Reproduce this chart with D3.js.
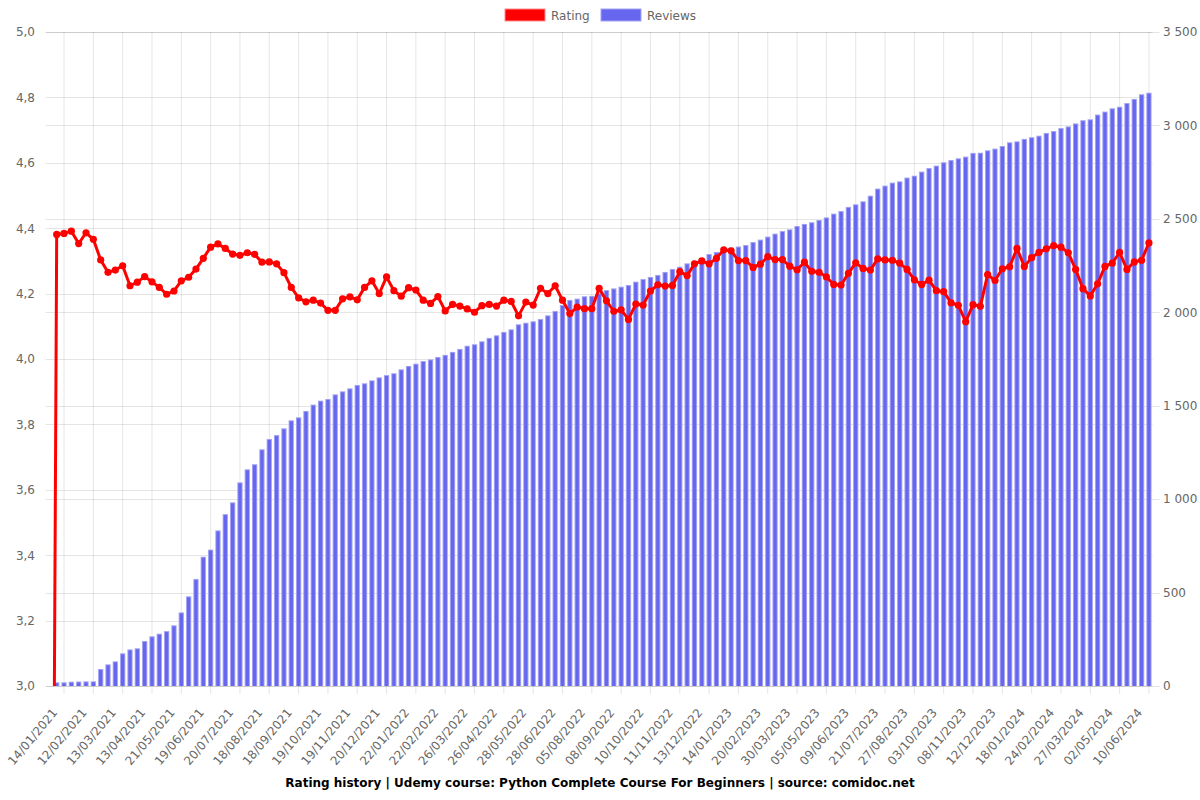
<!DOCTYPE html>
<html>
<head>
<meta charset="utf-8">
<script src="https://cdn.jsdelivr.net/npm/d3@7"></script>
<style>
  html, body { margin: 0; padding: 0; background: #fff; }
  svg { display: block; font-family: "DejaVu Sans", sans-serif; }
</style>
</head>
<body>
<svg id="chart" width="1200" height="800"></svg>
<script>
// ---------------- DATA ----------------
const ratingValues = [0,
  4.381, 4.384, 4.391, 4.353, 4.386, 4.366, 4.303, 4.265, 4.272, 4.285,
  4.224, 4.235, 4.252, 4.236, 4.219, 4.198, 4.208, 4.239, 4.250, 4.275,
  4.308, 4.342, 4.352, 4.338, 4.321, 4.317, 4.325, 4.320, 4.296, 4.297,
  4.291, 4.264, 4.219, 4.187, 4.175, 4.180, 4.171, 4.149, 4.149, 4.184,
  4.190, 4.181, 4.219, 4.239, 4.200, 4.251, 4.209, 4.192, 4.218, 4.211,
  4.180, 4.170, 4.191, 4.147, 4.167, 4.162, 4.153, 4.143, 4.163, 4.167,
  4.162, 4.180, 4.176, 4.132, 4.174, 4.165, 4.216, 4.200, 4.224, 4.180,
  4.139, 4.159, 4.154, 4.154, 4.216, 4.178, 4.146, 4.150, 4.121, 4.168,
  4.165, 4.208, 4.227, 4.223, 4.225, 4.267, 4.255, 4.291, 4.300, 4.291,
  4.308, 4.334, 4.331, 4.301, 4.301, 4.280, 4.290, 4.313, 4.304, 4.304,
  4.284, 4.273, 4.296, 4.268, 4.265, 4.251, 4.228, 4.226, 4.262, 4.294,
  4.277, 4.272, 4.306, 4.303, 4.302, 4.293, 4.274, 4.242, 4.228, 4.241,
  4.209, 4.206, 4.172, 4.164, 4.114, 4.166, 4.161, 4.258, 4.240, 4.276,
  4.282, 4.338, 4.283, 4.310, 4.326, 4.337, 4.347, 4.342, 4.325, 4.274,
  4.215, 4.193, 4.230, 4.283, 4.293, 4.326, 4.274, 4.297, 4.302, 4.355
];

const reviewValues = [0,
  20, 20, 23, 24, 25, 25, 91, 116, 132, 175,
  196, 202, 241, 266, 280, 294, 325, 394, 480, 573,
  692, 730, 833, 920, 983, 1090, 1160, 1187, 1267, 1322,
  1343, 1379, 1422, 1438, 1472, 1506, 1527, 1536, 1561, 1577,
  1593, 1611, 1620, 1636, 1652, 1664, 1674, 1695, 1713, 1725,
  1739, 1748, 1761, 1772, 1788, 1804, 1821, 1829, 1845, 1863,
  1877, 1895, 1909, 1936, 1944, 1952, 1964, 1984, 2007, 2039,
  2066, 2073, 2086, 2088, 2102, 2119, 2128, 2137, 2146, 2164,
  2178, 2189, 2200, 2216, 2232, 2244, 2262, 2276, 2289, 2312,
  2323, 2340, 2346, 2352, 2360, 2376, 2389, 2405, 2421, 2435,
  2444, 2462, 2473, 2482, 2494, 2508, 2528, 2542, 2564, 2578,
  2594, 2624, 2662, 2678, 2694, 2701, 2721, 2731, 2753, 2772,
  2785, 2803, 2815, 2824, 2833, 2853, 2854, 2867, 2876, 2890,
  2910, 2915, 2928, 2937, 2945, 2960, 2970, 2986, 2995, 3011,
  3028, 3033, 3058, 3074, 3092, 3100, 3120, 3142, 3167, 3175
];

// shown date labels (every 4th point, starting at the 3rd point)
const dateLabels = [
  "14/01/2021","12/02/2021","13/03/2021","13/04/2021","21/05/2021","19/06/2021",
  "20/07/2021","18/08/2021","18/09/2021","19/10/2021","19/11/2021","20/12/2021",
  "22/01/2022","22/02/2022","26/03/2022","26/04/2022","28/05/2022","28/06/2022",
  "05/08/2022","08/09/2022","10/10/2022","11/11/2022","13/12/2022","14/01/2023",
  "20/02/2023","30/03/2023","05/05/2023","09/06/2023","21/07/2023","27/08/2023",
  "03/10/2023","08/11/2023","12/12/2023","18/01/2024","24/02/2024","27/03/2024",
  "02/05/2024","10/06/2024"
];
const labelStart = 2, labelEvery = 4;

const ratingTicks = [3.0, 3.2, 3.4, 3.6, 3.8, 4.0, 4.2, 4.4, 4.6, 4.8, 5.0];
const reviewTicks = [0, 500, 1000, 1500, 2000, 2500, 3000, 3500];

const titleText = "Rating history | Udemy course: Python Complete Course For Beginners | source: comidoc.net";
const seriesNames = ["Rating", "Reviews"];

// ---------------- LAYOUT ----------------
const plot = { left: 45.7, right: 1152.6, top: 32, bottom: 686 };
const gridColor = "rgba(0,0,0,0.1)";
const tickColor = "#666";

const svg = d3.select("#chart");

const idx = d3.range(ratingValues.length);
const x = d3.scaleBand().domain(idx).range([plot.left, plot.right]).padding(0);
const cx = i => x(i) + x.bandwidth() / 2;
const yL = d3.scaleLinear().domain([3, 5]).range([plot.bottom, plot.top]);
const yR = d3.scaleLinear().domain([0, 3500]).range([plot.bottom, plot.top]);

const tickIdx = dateLabels.map((d, k) => labelStart + k * labelEvery);

// ---------------- GRID ----------------
const grid = svg.append("g");
grid.selectAll(".gv").data(tickIdx).join("line")
  .attr("x1", d => cx(d)).attr("x2", d => cx(d))
  .attr("y1", plot.top).attr("y2", plot.bottom + 8)
  .attr("stroke", gridColor).attr("stroke-width", 1);
grid.selectAll(".gl").data(ratingTicks).join("line")
  .attr("x1", plot.left).attr("x2", plot.right)
  .attr("y1", d => Math.round(yL(d)) + 0.5).attr("y2", d => Math.round(yL(d)) + 0.5)
  .attr("stroke", gridColor);
grid.selectAll(".gr").data(reviewTicks).join("line")
  .attr("x1", plot.left).attr("x2", plot.right + 7)
  .attr("y1", d => Math.round(yR(d)) + 0.5).attr("y2", d => Math.round(yR(d)) + 0.5)
  .attr("stroke", gridColor);

// ---------------- BARS ----------------
const barW = x.bandwidth() * 0.72;
const bars = svg.append("g");
bars.selectAll(".bo").data(idx).join("rect")
  .attr("x", i => cx(i) - barW / 2)
  .attr("width", barW)
  .attr("y", i => yR(reviewValues[i]))
  .attr("height", i => plot.bottom - yR(reviewValues[i]))
  .attr("fill", "#a4a4f4");
bars.selectAll(".bi").data(idx).join("rect")
  .attr("x", i => cx(i) - barW / 2 + 1)
  .attr("width", barW - 2)
  .attr("y", i => Math.min(plot.bottom, yR(reviewValues[i]) + 1))
  .attr("height", i => Math.max(0, plot.bottom - yR(reviewValues[i]) - 1))
  .attr("fill", "#6666ee");

// ---------------- LINE ----------------
svg.append("clipPath").attr("id", "clip").append("rect")
  .attr("x", plot.left - 10).attr("y", plot.top - 10)
  .attr("width", plot.right - plot.left + 20).attr("height", plot.bottom - plot.top + 10);

const lineG = svg.append("g").attr("clip-path", "url(#clip)");
const line = d3.line().x((d, i) => cx(i)).y(d => yL(d));
lineG.append("path").datum(ratingValues)
  .attr("d", line).attr("fill", "none")
  .attr("stroke", "#ff0000").attr("stroke-width", 3).attr("stroke-linejoin", "round");
lineG.selectAll(".pt").data(ratingValues).join("circle")
  .attr("cx", (d, i) => cx(i)).attr("cy", d => yL(d)).attr("r", 3.6)
  .attr("fill", "#ff0000");

// ---------------- AXES LABELS ----------------
const fmtL = d => d.toFixed(1).replace(".", ",");
const fmtR = d => d3.format(",")(d).replace(/,/g, " ");

svg.append("g").selectAll("text").data(ratingTicks).join("text")
  .attr("x", 35).attr("y", d => yL(d) + 4.3)
  .attr("text-anchor", "end").attr("font-size", 12).attr("fill", tickColor)
  .text(fmtL);
svg.append("g").selectAll("text").data(reviewTicks).join("text")
  .attr("x", 1163).attr("y", d => yR(d) + 4.3)
  .attr("text-anchor", "start").attr("font-size", 12).attr("fill", tickColor)
  .text(fmtR);

svg.append("g").selectAll("text").data(tickIdx).join("text")
  .attr("transform", d => `translate(${cx(d) - 6},713) rotate(-50)`)
  .attr("text-anchor", "end").attr("font-size", 12).attr("fill", tickColor)
  .text((d, k) => dateLabels[k]);

// ---------------- LEGEND ----------------
const legend = svg.append("g");
legend.append("rect").attr("x", 505).attr("y", 9).attr("width", 40).attr("height", 12)
  .attr("fill", "#ff0000").attr("stroke", "#ff8a8a").attr("stroke-width", 1);
legend.append("text").attr("x", 551).attr("y", 19.5).attr("font-size", 12).attr("fill", tickColor)
  .text(seriesNames[0]);
legend.append("rect").attr("x", 601).attr("y", 9).attr("width", 40).attr("height", 12)
  .attr("fill", "#6666ee").attr("stroke", "#a4a4f4").attr("stroke-width", 1);
legend.append("text").attr("x", 647).attr("y", 19.5).attr("font-size", 12).attr("fill", tickColor)
  .text(seriesNames[1]);

// ---------------- TITLE ----------------
svg.append("text").attr("x", 600).attr("y", 787)
  .attr("text-anchor", "middle").attr("font-size", 12).attr("font-weight", "bold")
  .attr("fill", "#000").text(titleText);
</script>
</body>
</html>
